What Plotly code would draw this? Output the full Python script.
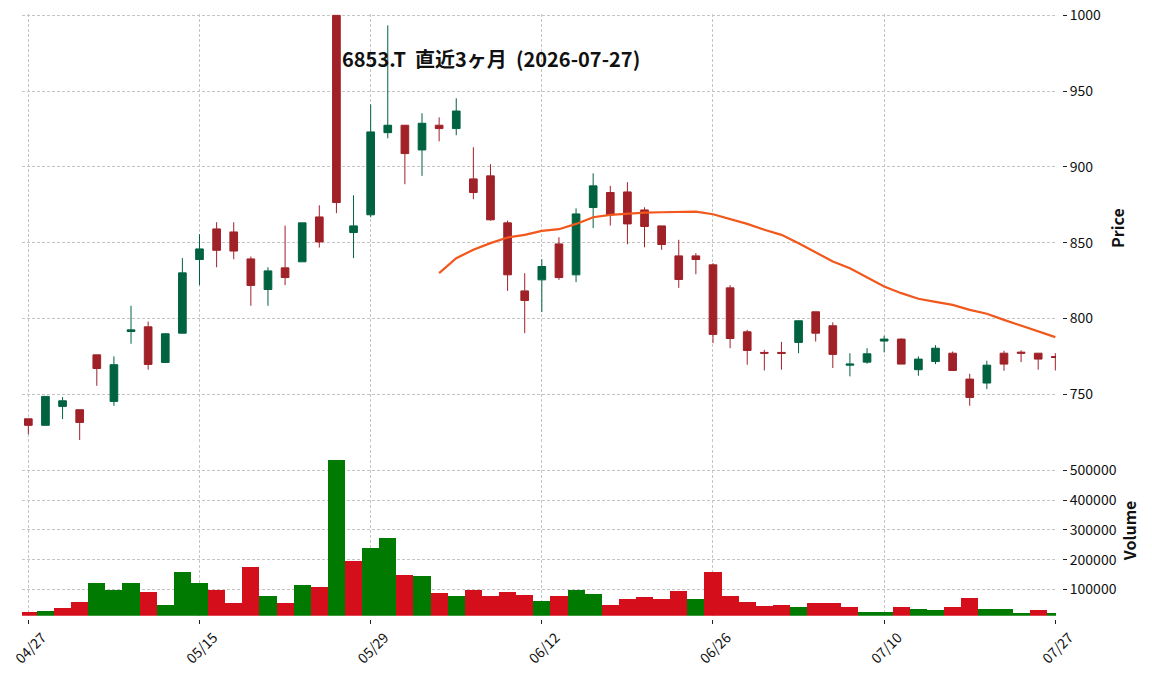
import plotly.graph_objects as go

dates = ["2026-04-27", "2026-04-28", "2026-04-30", "2026-05-01", "2026-05-07", "2026-05-08",
         "2026-05-11", "2026-05-12", "2026-05-13", "2026-05-14", "2026-05-15", "2026-05-18",
         "2026-05-19", "2026-05-20", "2026-05-21", "2026-05-22", "2026-05-25", "2026-05-26",
         "2026-05-27", "2026-05-28", "2026-05-29", "2026-06-01", "2026-06-02", "2026-06-03",
         "2026-06-04", "2026-06-05", "2026-06-08", "2026-06-09", "2026-06-10", "2026-06-11",
         "2026-06-12", "2026-06-15", "2026-06-16", "2026-06-17", "2026-06-18", "2026-06-19",
         "2026-06-22", "2026-06-23", "2026-06-24", "2026-06-25", "2026-06-26", "2026-06-29",
         "2026-06-30", "2026-07-01", "2026-07-02", "2026-07-03", "2026-07-06", "2026-07-07",
         "2026-07-08", "2026-07-09", "2026-07-10", "2026-07-13", "2026-07-14", "2026-07-15",
         "2026-07-16", "2026-07-17", "2026-07-21", "2026-07-22", "2026-07-23", "2026-07-24",
         "2026-07-27"]

opens = [733.8, 729.5, 742.0, 739.8, 776.0, 745.3, 791.4, 794.5, 771.0, 790.3,
         838.9, 859.1, 857.1, 839.3, 819.1, 833.4, 837.4, 867.0, 1000.0, 856.7,
         868.4, 922.6, 927.5, 911.2, 927.5, 925.3, 892.1, 894.1, 863.1, 818.2,
         825.5, 849.2, 828.8, 873.2, 883.1, 883.5, 871.6, 861.1, 841.3, 841.3,
         835.4, 820.2, 791.2, 777.6, 777.6, 784.2, 804.4, 795.2, 769.2, 771.2,
         785.1, 786.4, 766.2, 771.6, 777.1, 760.0, 757.4, 777.1, 777.8, 777.1,
         774.9]
highs = [734.0, 748.6, 748.1, 740.0, 776.0, 775.0, 808.4, 798.0, 790.3, 839.8,
         855.6, 863.5, 863.5, 840.9, 833.8, 861.3, 863.1, 874.7, 1000.0, 881.3,
         941.3, 993.4, 927.5, 935.4, 932.7, 945.3, 913.0, 901.8, 864.6, 829.9,
         839.1, 853.6, 872.7, 895.8, 887.5, 889.9, 873.4, 861.1, 851.9, 843.1,
         836.5, 822.0, 792.5, 779.3, 784.6, 798.5, 804.4, 797.4, 777.1, 780.4,
         788.6, 786.8, 775.0, 782.4, 778.2, 763.5, 772.1, 778.7, 779.0, 777.1,
         777.1]
lows = [723.5, 729.5, 733.6, 719.8, 755.6, 742.4, 783.3, 766.2, 771.0, 790.3,
        822.0, 833.8, 839.1, 808.4, 808.4, 822.0, 837.4, 846.8, 869.5, 839.8,
        866.8, 918.9, 888.6, 894.1, 916.9, 920.9, 878.7, 864.6, 818.2, 790.3,
        804.2, 825.5, 824.0, 859.6, 861.3, 849.0, 847.0, 845.3, 820.2, 829.2,
        783.7, 780.4, 769.5, 765.7, 766.2, 777.1, 784.8, 767.3, 761.8, 770.1,
        777.6, 769.9, 762.2, 769.9, 765.7, 742.4, 753.4, 765.5, 771.2, 766.2,
        765.7]
closes = [729.5, 748.6, 745.7, 731.4, 767.0, 769.5, 792.5, 769.7, 789.9, 830.1,
          845.9, 845.0, 844.5, 821.8, 831.4, 827.0, 863.1, 850.5, 876.5, 861.1,
          923.1, 927.5, 908.8, 928.8, 925.3, 936.9, 883.1, 865.1, 828.8, 811.9,
          834.3, 827.0, 869.0, 887.5, 868.4, 862.4, 860.7, 848.8, 825.7, 838.9,
          789.5, 786.8, 778.9, 777.1, 777.0, 798.5, 790.3, 776.3, 769.9, 776.7,
          786.4, 769.9, 773.2, 780.4, 765.7, 747.9, 769.2, 769.9, 777.1, 773.2,
          774.3]

volumes = [23800, 27200, 37300, 57400, 121300, 97800, 121300, 91000, 47300, 158300,
           121300, 97800, 54100, 175100, 77600, 54100, 114600, 107800, 534700, 195200,
           238900, 272500, 148200, 144800, 87700, 77600, 97800, 77600, 91000, 81000,
           60800, 77600, 97800, 84300, 47300, 67500, 74200, 67500, 94400, 67500,
           158300, 77600, 57400, 44000, 47300, 40600, 54100, 54100, 40600, 23800,
           23800, 40600, 33900, 30500, 40600, 70900, 33900, 33900, 20500, 30500,
           20500]
# 1 = close >= previous close (green volume bar), 0 = lower (red)
volume_up = [0, 1, 0, 0, 1, 1, 1, 0, 1, 1, 1, 0, 0, 0, 1, 0, 1, 0, 1, 0,
             1, 1, 0, 1, 0, 1, 0, 0, 0, 0, 1, 0, 1, 1, 0, 0, 0, 0, 0, 1,
             0, 0, 0, 0, 0, 1, 0, 0, 0, 1, 1, 0, 1, 1, 0, 0, 1, 1, 1, 0, 1]

ma_dates = dates[24:]
ma25 = [829.9, 839.8, 845.3, 849.7, 853.4, 855.2, 857.8, 858.9, 862.4, 866.8,
        868.4, 869.2, 869.9, 870.1, 870.3, 870.5, 868.8, 865.7, 862.4, 858.5,
        855.2, 849.7, 843.7, 837.6, 833.2, 827.0, 821.1, 816.7, 813.0, 811.0,
        809.0, 805.7, 803.1, 799.1, 795.2, 791.4, 787.7]

tick_dates = ["2026-04-27", "2026-05-15", "2026-05-29", "2026-06-12",
              "2026-06-26", "2026-07-10", "2026-07-27"]
tick_text = ["04/27", "05/15", "05/29", "06/12", "06/26", "07/10", "07/27"]
price_ticks = [750, 800, 850, 900, 950, 1000]
volume_ticks = [100000, 200000, 300000, 400000, 500000]

title_text = "6853.T\u00a0\u00a0直近3ヶ月\u00a0\u00a0(2026-07-27)"

UP = "#006340"
DOWN = "#A02128"
VUP = "#007a00"
VDOWN = "#d40e1b"
FONT = "Noto Sans CJK JP"
GRID = "#c4c4c4"

fig = go.Figure()
fig.add_trace(go.Candlestick(
    x=dates, open=opens, high=highs, low=lows, close=closes,
    xaxis="x", yaxis="y",
    increasing=dict(line=dict(color=UP, width=1), fillcolor=UP),
    decreasing=dict(line=dict(color=DOWN, width=1), fillcolor=DOWN),
    whiskerwidth=0, showlegend=False,
))
fig.add_trace(go.Scatter(
    x=ma_dates, y=ma25, mode="lines", xaxis="x", yaxis="y",
    line=dict(color="#f2571b", width=2.2), showlegend=False,
))
fig.add_trace(go.Bar(
    x=dates, y=volumes, xaxis="x2", yaxis="y2",
    marker=dict(color=[VUP if u else VDOWN for u in volume_up], line=dict(width=0)),
    showlegend=False,
))

L, R, T, B = 22, 80, 14, 54
W = 1152 - L - R
H = 673 - T - B
xr = (1056 - L) / W
ypos = (1062 - L) / W

def py(pix):
    return (673 - B - pix) / H

xrange_ = [-0.37, 60.04]
common_x = dict(
    type="category", range=xrange_, tickvals=tick_dates, ticktext=tick_text,
    showgrid=True, gridcolor=GRID, griddash="3px,2px", gridwidth=1,
    zeroline=False, showline=False, domain=[0, xr], automargin=False,
)
common_y = dict(
    side="right", anchor="free", position=ypos, automargin=False,
    showgrid=True, gridcolor=GRID, griddash="3px,2px", gridwidth=1,
    zeroline=False, showline=False, ticks="outside", ticklen=4, tickwidth=1,
    tickcolor="#222", tickfont=dict(size=14, color="#111", family=FONT),
)

fig.update_layout(
    width=1152, height=673,
    margin=dict(l=L, r=R, t=T, b=B, pad=0, autoexpand=False),
    paper_bgcolor="white", plot_bgcolor="white",
    font=dict(family=FONT, color="#111"),
    bargap=0, boxgap=0.36,
    xaxis=dict(**common_x, anchor="y", showticklabels=False, ticks="",
               matches="x2", rangeslider=dict(visible=False)),
    xaxis2=dict(**common_x, anchor="free", position=0, ticks="outside", ticklen=4,
                tickwidth=1, tickcolor="#222", tickangle=-45, ticklabelshift=14,
                tickfont=dict(size=14, color="#111", family=FONT)),
    yaxis=dict(**common_y, domain=[py(442), 1], range=[718.5, 1000.9],
               tickvals=price_ticks,
               title=dict(text="<b>Price</b>", font=dict(size=16, family=FONT), standoff=12)),
    yaxis2=dict(**common_y, domain=[py(615.7), py(445)], range=[11300, 586000],
                tickvals=volume_ticks, tickformat="d",
                title=dict(text="<b>Volume</b>", font=dict(size=16, family=FONT), standoff=8)),
    annotations=[dict(
        text="<b>" + title_text + "</b>", x=(491 - L) / W, y=py(58),
        xref="paper", yref="paper", xanchor="center", yanchor="middle",
        showarrow=False, font=dict(size=20, family=FONT, color="#111"),
    )],
)

fig.write_html("out.html")
